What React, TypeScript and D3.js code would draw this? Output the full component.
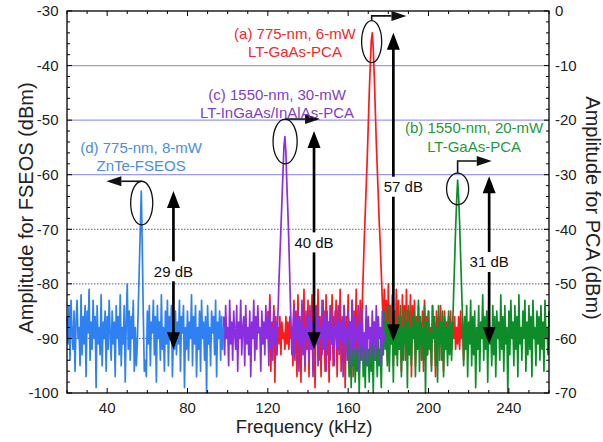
import React from 'react';
import * as d3 from 'd3';

// ---------------- data ----------------
// spectra sampled every 0.5 kHz
const binStepKHz = 0.5;

// (d) 775-nm, 8-mW ZnTe-FSEOS  — left axis (dBm), 20 .. 98 kHz
const fseosStartKHz = 20;
const fseosZnTe = [
  -86, -91, -84, -94, -83, -89, -92, -85, -96, -87,
  -83, -90, -88, -95, -82, -93, -86, -91, -84, -97,
  -85, -89, -81, -94, -87, -92, -83, -90, -86, -99,
  -84, -91, -88, -93, -82, -95, -87, -90, -85, -96,
  -86, -92, -83, -89, -94, -85, -91, -87, -97, -84,
  -90, -86, -93, -82, -95, -88, -91, -84, -98, -87,
  -80, -92, -85, -94, -86, -90, -83, -96, -88, -95,
  -91, -84, -77, -70, -63, -74, -86, -96, -94, -97,
  -85, -91, -84, -95, -87, -89, -83, -93, -86, -98,
  -84, -90, -87, -94, -82, -92, -88, -96, -85, -91,
  -83, -95, -86, -90, -84, -97, -89, -92, -85, -93,
  -87, -91, -83, -96, -86, -89, -84, -99, -88, -92,
  -85, -94, -87, -90, -82, -95, -86, -91, -84, -97,
  -88, -92, -85, -96, -83, -90, -87, -94, -86, -100,
  -84, -91, -88, -95, -85, -89, -86, -93, -83, -97,
  -87, -90, -85, -94, -86, -92, -88,
];

// (c) 1550-nm, 30-mW LT-InGaAs/InAlAs-PCA — right axis (dBm), 98 .. 178 kHz
const pcaInGaAsStartKHz = 98;
const pcaInGaAs = [
  -56, -63, -54, -60, -58, -65, -53, -61, -57, -64,
  -55, -59, -62, -54, -66, -57, -60, -53, -63, -58,
  -56, -65, -54, -61, -58, -63, -55, -67, -57, -60,
  -53, -64, -56, -62, -54, -59, -58, -66, -55, -61,
  -57, -63, -54, -60, -56, -65, -53, -62, -58, -64,
  -55, -61, -57, -63,
  -56, -50, -45, -40, -35, -30, -25, -23, -26, -32, -37, -43, -50, -57,
  -63, -58,
  -54, -64, -56, -60, -55, -66, -57, -61, -53, -63,
  -58, -65, -55, -60, -56, -64, -54, -62, -57, -67,
  -55, -59, -61, -54, -65, -56, -60, -58, -63, -53,
  -62, -56, -66, -55, -60, -57, -64, -54, -61, -58,
  -65, -55, -59, -62, -54, -63, -57, -60, -56, -67,
  -54, -61, -58, -64, -55, -60, -57, -65, -53, -62,
  -56, -63, -58, -60, -54, -66, -57, -61, -55, -64,
  -59, -62, -54, -65, -56, -60, -58, -63, -55, -61,
  -57, -64, -54, -62, -56, -60, -58, -65, -55, -61, -59,
];

// (a) 775-nm, 6-mW LT-GaAs-PCA — right axis (dBm), 120 .. 218 kHz
const pcaGaAs775StartKHz = 120;
const pcaGaAs775 = [
  -55, -62, -52, -66, -57, -60, -54, -68, -56, -63,
  -58, -61, -56, -63, -57, -60, -59, -62, -56, -61,
  -57, -62, -56, -60, -58, -65, -53, -61, -55, -67,
  -52, -63, -56, -68, -54, -60, -51, -66, -57, -62,
  -53, -67, -55, -61, -52, -65, -58, -69, -54, -60,
  -51, -64, -56, -67, -53, -62, -55, -66, -52, -63,
  -57, -68, -54, -61, -52, -65, -56, -60, -53, -67,
  -55, -62, -51, -66, -58, -63, -54, -69, -56, -61,
  -52, -64, -57, -60, -53, -67, -55, -62, -51, -65,
  -56, -61, -53, -59,
  -54, -48, -42, -37, -32, -27, -21, -15, -10, -5.5, -4, -7, -12, -18, -24, -29, -34, -39, -43, -48, -53, -58,
  -51, -60, -53, -64,
  -50, -62, -54, -59, -52, -65, -55, -61, -51, -63,
  -53, -60, -56, -66, -52, -61, -54, -64, -51, -59,
  -55, -63, -52, -67, -54, -60, -53, -65, -56, -62,
  -54, -61, -57, -64, -55, -66, -53, -60, -56, -63,
  -55, -62, -58, -65, -54, -60, -57, -67, -55, -61,
  -56, -64, -54, -60, -58, -66, -55, -62, -57, -59,
  -56, -61, -55, -62, -57, -60, -56, -62, -58, -61,
  -56, -62, -55, -60, -58, -64, -57,
];

// (b) 1550-nm, 20-mW LT-GaAs-PCA — right axis (dBm), 160 .. 260 kHz
const pcaGaAs1550StartKHz = 160;
const pcaGaAs1550 = [
  -60, -67, -58, -69, -61, -65, -59, -68, -62, -66,
  -58, -70, -60, -64, -57, -67, -61, -69, -59, -65,
  -62, -68, -58, -66, -60, -70, -57, -64, -61, -67,
  -59, -65, -62, -69, -58, -63,
  -55, -62, -57, -65,
  -54, -66, -58, -61, -56, -68, -55, -63, -59, -65,
  -56, -62, -54, -67, -58, -64, -55, -61, -57, -69,
  -54, -63, -58, -65, -56, -60, -55, -67, -57, -62,
  -53, -66, -56, -61, -58, -64, -54, -70, -57, -63,
  -55, -62, -59, -66, -54, -60, -56, -65, -58, -68,
  -54, -61, -57, -64, -55, -67, -56, -62, -58, -65,
  -55, -63, -57, -64,
  -58, -52, -46, -40, -35, -31, -34, -39, -45, -51, -57,
  -65, -56, -62, -54, -67,
  -57, -61, -53, -65, -56, -63, -55, -69, -58, -62,
  -54, -66, -57, -60, -52, -64, -56, -62, -55, -68,
  -53, -61, -58, -65, -54, -63, -56, -67, -55, -60,
  -57, -64, -52, -62, -56, -66, -54, -61, -58, -70,
  -55, -63, -53, -60, -57, -65, -54, -62, -56, -67,
  -52, -61, -58, -64, -55, -60, -53, -66, -57, -63,
  -54, -62, -56, -67, -53, -60, -58, -65, -55, -61,
  -56, -64, -54, -62, -57, -66, -53, -60, -58, -63, -55,
];

// axis ticks
const xTickLabels = [40, 80, 120, 160, 200, 240];
const leftTickLabels = [-100, -90, -80, -70, -60, -50, -40, -30];
const rightTickLabels = [-70, -60, -50, -40, -30, -20, -10, 0];
const solidGridDb = [-40, -50, -60];
const dottedGridDb = [-70, -80, -90];

// peak-to-floor measurements (left-axis dBm)
const dbArrowKHz = [73, 143, 182.5, 230.2];
const dbArrowTop = [-63, -52, -34, -60.3];
const dbArrowBottom = [-92, -92, -90.5, -91];
const dbArrowLabels = ['29 dB', '40 dB', '57 dB', '31 dB'];

// ---------------- layout / styling ----------------
const W = 603;
const H = 442;
const FONT = 'Liberation Sans, Arial, Helvetica, sans-serif';
const COL = {
  blue: '#2f80f0',
  purple: '#8a2fe0',
  red: '#ff1a1a',
  green: '#0e8c2a',
};
const TRACE_W = 1.7;

export default function App() {
  const x = d3.scaleLinear().domain([20, 260]).range([67, 549]);
  const yL = d3.scaleLinear().domain([-100, -30]).range([393, 11]);
  const yR = d3.scaleLinear().domain([-70, 0]).range([393, 11]);

  const trace = (start: number, values: number[], y: d3.ScaleLinear<number, number>) =>
    d3
      .line<number>()
      .x((_, i) => x(start + i * binStepKHz))
      .y((d) => y(d))(values) as string;

  const x0 = x.range()[0];
  const x1 = x.range()[1];
  const yTop = yL.range()[1];
  const yBot = yL.range()[0];

  const xMinor = d3.range(20, 261, 10);
  const yMinorL = d3.range(-100, -29, 2);

  // callouts (left-axis units)
  const callouts = [
    { c: COL.blue, k: 57.2, db: -65.2, rk: 5.5, rdb: 4.0, lineDb: -61.2, tipK: 39.6 },
    { c: COL.purple, k: 128.6, db: -53.9, rk: 6, rdb: 4.1, lineDb: -49.8, tipK: 146 },
    { c: COL.red, k: 171.7, db: -35.6, rk: 5, rdb: 3.85, lineDb: -30.9, tipK: 189 },
    { c: COL.green, k: 214.5, db: -62.6, rk: 5.5, rdb: 2.9, lineDb: -57.5, tipK: 231.5 },
  ];

  const labels = [
    { color: '#ee2a2a', k: 133.5, lines: ['(a) 775-nm, 6-mW', 'LT-GaAs-PCA'], db: [-35.1, -38.45] },
    { color: '#8040c8', k: 124.6, lines: ['(c) 1550-nm, 30-mW', 'LT-InGaAs/InAlAs-PCA'], db: [-46.4, -49.6] },
    { color: '#4a8ee0', k: 56.9, lines: ['(d) 775-nm, 8-mW', 'ZnTe-FSEOS'], db: [-55.97, -59.32] },
    { color: '#239a3a', k: 222.7, lines: ['(b) 1550-nm, 20-mW', 'LT-GaAs-PCA'], db: [-52.36, -55.84] },
  ];
  const dbLabelDb = [-77.7, -72.4, -62.2, -76];
  const dbLabelDx = [0, 0, 10, 0];

  return (
    <svg
      width={W}
      height={H}
      viewBox={`0 0 ${W} ${H}`}
      style={{ position: 'absolute', left: 0, top: 0, display: 'block', background: '#fff' }}
      fontFamily={FONT}
    >
      <rect x={0} y={0} width={W} height={H} fill="#fff" />
      {/* grid */}
      {solidGridDb.map((d) => (
        <line key={'sg' + d} x1={x0} x2={x1} y1={yL(d)} y2={yL(d)} stroke="#9a9aec" strokeWidth={1.2} />
      ))}
      {dottedGridDb.map((d) => (
        <line
          key={'dg' + d}
          x1={x0}
          x2={x1}
          y1={yL(d)}
          y2={yL(d)}
          stroke="#5a5ad0"
          strokeWidth={1}
          strokeDasharray="1.5,1.5"
        />
      ))}

      {/* spectra */}
      <g strokeLinejoin="round" fill="none">
        <path d={trace(pcaGaAs775StartKHz, pcaGaAs775, yR)} stroke={COL.red} strokeWidth={TRACE_W} />
        <path d={trace(pcaGaAs1550StartKHz, pcaGaAs1550, yR)} stroke={COL.green} strokeWidth={TRACE_W} />
        <path d={trace(pcaInGaAsStartKHz, pcaInGaAs, yR)} stroke={COL.purple} strokeWidth={TRACE_W} />
        <path d={trace(fseosStartKHz, fseosZnTe, yL)} stroke={COL.blue} strokeWidth={TRACE_W} />
      </g>

      {/* frame */}
      <rect x={x0} y={yTop} width={x1 - x0} height={yBot - yTop} fill="none" stroke="#000" strokeWidth={1.3} />

      {/* x ticks */}
      {xMinor.map((v) => {
        const major = v % 40 === 0;
        const len = major ? 5 : 3;
        return (
          <g key={'xt' + v}>
            <line x1={x(v)} x2={x(v)} y1={yBot} y2={yBot - len} stroke="#000" strokeWidth={1} />
            <line x1={x(v)} x2={x(v)} y1={yTop} y2={yTop + len} stroke="#000" strokeWidth={1} />
          </g>
        );
      })}
      {xTickLabels.map((v) => (
        <text key={'xl' + v} x={x(v)} y={413} fontSize={15} textAnchor="middle" fill="#222">
          {v}
        </text>
      ))}

      {/* y ticks */}
      {yMinorL.map((v) => {
        const major = v % 10 === 0;
        const len = major ? 5 : 3;
        return (
          <g key={'yt' + v}>
            <line x1={x0} x2={x0 + len} y1={yL(v)} y2={yL(v)} stroke="#000" strokeWidth={1} />
            <line x1={x1} x2={x1 - len} y1={yL(v)} y2={yL(v)} stroke="#000" strokeWidth={1} />
          </g>
        );
      })}
      {leftTickLabels.map((v) => (
        <text key={'yl' + v} x={58.5} y={yL(v) + 5.3} fontSize={15} textAnchor="end" fill="#222">
          {v}
        </text>
      ))}
      {rightTickLabels.map((v) => (
        <text key={'yr' + v} x={555} y={yR(v) + 5.3} fontSize={15} textAnchor="start" fill="#222">
          {v}
        </text>
      ))}

      {/* axis titles */}
      <text x={304} y={433} fontSize={18.5} textAnchor="middle" fill="#222">
        Frequency (kHz)
      </text>
      <text transform={`translate(33,208) rotate(-90)`} fontSize={20} textAnchor="middle" fill="#222">
        Amplitude for FSEOS (dBm)
      </text>
      <text transform={`translate(586,208) rotate(90)`} fontSize={20} textAnchor="middle" fill="#222">
        Amplitude for PCA (dBm)
      </text>

      {/* callouts: ellipse + horizontal arrow pointing to the relevant axis */}
      {callouts.map((c, i) => {
        const cx = x(c.k);
        const cy = yL(c.db);
        const rx = x(c.k + c.rk) - cx;
        const ry = yL(c.db - c.rdb) - cy;
        const ly = yL(c.lineDb);
        const tx = x(c.tipK);
        const dir = tx > cx ? 1 : -1;
        const hl = 15;
        const hw = 5;
        return (
          <g key={'co' + i}>
            <ellipse cx={cx} cy={cy} rx={rx} ry={ry} fill="none" stroke="#111" strokeWidth={1.3} />
            <path d={`M${cx},${cy - ry} V${ly} H${tx - dir * hl}`} fill="none" stroke="#111" strokeWidth={1.6} />
            <polygon
              points={`${tx},${ly} ${tx - dir * hl},${ly - hw} ${tx - dir * hl},${ly + hw}`}
              fill="#111"
            />
          </g>
        );
      })}

      {/* dB double arrows */}
      {dbArrowKHz.map((k, i) => {
        const ax = x(k);
        const t = yL(dbArrowTop[i]);
        const b = yL(dbArrowBottom[i]);
        const hl = 17;
        const hw = 6.5;
        const ty = yL(dbLabelDb[i]);
        const tx = ax + dbLabelDx[i];
        return (
          <g key={'da' + i}>
            <line x1={ax} x2={ax} y1={t + hl - 2} y2={b - hl + 2} stroke="#000" strokeWidth={2.7} />
            <polygon points={`${ax},${t} ${ax - hw},${t + hl} ${ax + hw},${t + hl}`} fill="#000" />
            <polygon points={`${ax},${b} ${ax - hw},${b - hl} ${ax + hw},${b - hl}`} fill="#000" />
            <rect x={tx - 22} y={ty - 10} width={44} height={20} fill="#fff" />
            <text x={tx} y={ty + 5.3} fontSize={15} textAnchor="middle" fill="#111">
              {dbArrowLabels[i]}
            </text>
          </g>
        );
      })}

      {/* coloured labels */}
      {labels.map((l, i) => (
        <g key={'lb' + i}>
          {l.lines.map((s, j) => (
            <text key={j} x={x(l.k)} y={yL(l.db[j])} fontSize={15} textAnchor="middle" fill={l.color}>
              {s}
            </text>
          ))}
        </g>
      ))}
    </svg>
  );
}
